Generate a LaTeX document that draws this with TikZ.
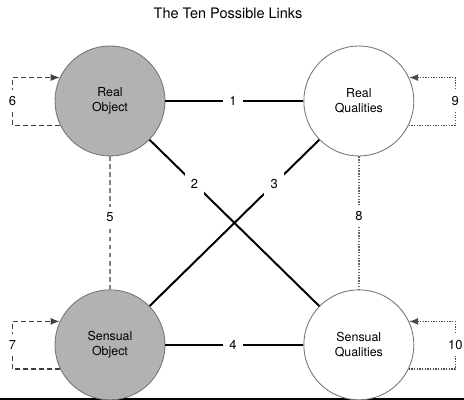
\documentclass[tikz,border=0pt]{standalone}
\usepackage{fontspec}
\setmainfont{TeX Gyre Heros}
\usetikzlibrary{positioning}
\usetikzlibrary{arrows.meta}

\begin{document}
\begin{tikzpicture}[-,>={Latex[length=6.5pt,width=5pt]},
	obj node/.style={circle,draw=black!55,line width=0.6pt,fill=black!30,minimum size=2.75cm,inner sep=0pt,align=center,font=\fontsize{8.8}{10.2}\selectfont},
	qual node/.style={obj node,fill=white},
	link/.style={black,line width=1.4pt},
	num/.style={fill=white,text=black,inner sep=4.5pt,font=\fontsize{9.2}{11}\selectfont},
	dash link/.style={black!50,line width=1pt,dash pattern=on 3.5pt off 2.2pt},
	dot link/.style={black!60,line width=1pt,densely dotted},
	dash loop/.style={->,black!75,line width=0.9pt,dash pattern=on 3.5pt off 2.2pt},
	dot loop/.style={->,black!70,line width=0.9pt,densely dotted}]

	\useasboundingbox (0,0) rectangle (11.6,10);

	%title on top and the rule along the bottom edge
	\node[anchor=base,font=\fontsize{10.3}{12}\selectfont] (title) at (5.7,9.525) {The Ten Possible Links};
	\draw[line width=1.5pt] (0,0.03) -- (11.6,0.03);

	%the four poles
	\begin{scope}
		\node[obj node] (RO) at (2.75,7.475) {Real\\Object};
		\node[qual node] (RQ) [right=3.45cm of RO] {Real\\Qualities};
		\node[obj node] (SO) [below=3.325cm of RO] {Sensual\\Object};
		\node[qual node] (SQ) [below=3.325cm of RQ] {Sensual\\Qualities};
	\end{scope}

	%links between the poles
	\begin{scope}
		\draw[link] (RO) -- node[num,pos=0.49] {1} (RQ);
		\draw[link] (RO) -- node[num,pos=0.265] {2} (SQ);
		\draw[link] (RQ) -- node[num,pos=0.265] {3} (SO);
		\draw[link] (SO) -- node[num,pos=0.49] {4} (SQ);
		\draw[dash link] (RO) -- node[num,pos=0.46] {5} (SO);
		\draw[dot link] (RQ) -- node[num,pos=0.45] {8} (SQ);
	\end{scope}

	%links of each pole with itself
	\begin{scope}
		\coordinate[left=1.05cm of RO.west] (loopsix);
		\coordinate[left=1.05cm of SO.west] (loopseven);
		\coordinate[right=1.025cm of RQ.east] (loopnine);
		\coordinate[right=1.025cm of SQ.east] (loopten);

		\draw[dash loop] (RO.206) -| (loopsix) |- (RO.155);
		\draw[dash loop] (SO.206) -| (loopseven) |- (SO.155);
		\draw[dot loop] (RQ.334) -| (loopnine) |- (RQ.25);
		\draw[dot loop] (SQ.334) -| (loopten) |- (SQ.25);

		\node[num] at (loopsix) {6};
		\node[num] at (loopseven) {7};
		\node[num] at (loopnine) {9};
		\node[num] at (loopten) {10};
	\end{scope}
\end{tikzpicture}
\end{document}
